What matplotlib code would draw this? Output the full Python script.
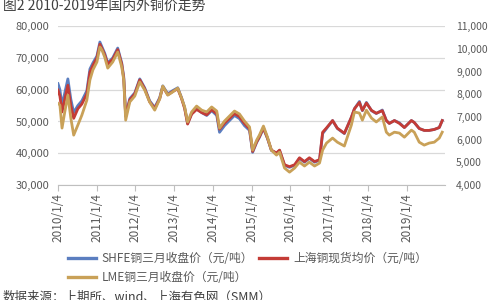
import matplotlib
matplotlib.use("Agg")
import matplotlib.pyplot as plt
from matplotlib.lines import Line2D
from matplotlib.ticker import FuncFormatter
import pandas as pd

plt.rcParams['font.family'] = ['Noto Sans CJK SC', 'DejaVu Sans']

dates = ["2010-01-04", "2010-01-22", "2010-02-11", "2010-03-09", "2010-04-07", "2010-05-05",
         "2010-06-01", "2010-07-10", "2010-08-17", "2010-10-03", "2010-11-01", "2010-11-29",
         "2011-01-06", "2011-02-03", "2011-02-22", "2011-03-20", "2011-04-18", "2011-06-04",
         "2011-07-21", "2011-08-28", "2011-09-16", "2011-10-04", "2011-11-12", "2011-12-29",
         "2012-02-14", "2012-03-31", "2012-05-17", "2012-07-04", "2012-08-20", "2012-09-18",
         "2012-11-04", "2012-12-20", "2013-02-06", "2013-03-14", "2013-04-12", "2013-05-10",
         "2013-06-17", "2013-08-03", "2013-09-20", "2013-11-06", "2013-12-23", "2014-02-09",
         "2014-03-07", "2014-04-23", "2014-06-09", "2014-07-26", "2014-09-11", "2014-10-28",
         "2014-12-15", "2015-01-13", "2015-02-20", "2015-03-18", "2015-04-25", "2015-06-02",
         "2015-07-09", "2015-08-26", "2015-09-24", "2015-11-10", "2015-12-27", "2016-02-13",
         "2016-03-30", "2016-05-16", "2016-07-01", "2016-08-19", "2016-10-05", "2016-11-03",
         "2016-12-10", "2017-02-05", "2017-03-22", "2017-05-27", "2017-08-01", "2017-08-30",
         "2017-10-16", "2017-11-13", "2017-12-21", "2018-02-07", "2018-03-24", "2018-05-20",
         "2018-06-27", "2018-07-25", "2018-09-11", "2018-10-28", "2018-12-14", "2019-02-18",
         "2019-03-17", "2019-05-03", "2019-06-19", "2019-08-05", "2019-09-22", "2019-11-08",
         "2019-12-06"]

shfe = [61900, 60000, 55000, 59000, 63400, 57000,
        52800, 55000, 56500, 59700, 66500, 68400,
        70600, 75000, 73500, 71500, 68400, 70000,
        73100, 68400, 64000, 52000, 57200, 59000,
        63400, 60600, 56500, 54400, 57500, 61200,
        58700, 59700, 60600, 57500, 54400, 49400,
        52500, 54000, 52800, 51900, 53400, 51900,
        46600, 48700, 50300, 51900, 50900, 48700,
        47200, 40300, 43400, 45000, 47800, 44700,
        40900, 40000, 40900, 36200, 35600, 36200,
        38400, 37200, 38400, 37200, 37800, 46200,
        47800, 50300, 47800, 46200, 51300, 54000,
        56300, 53400, 56000, 53400, 52500, 53600,
        50300, 49400, 50300, 49600, 48100, 50300,
        49700, 47800, 47200, 47200, 47500, 48100,
        50300]

spot = [59900, 58000, 53000, 57000, 61400, 55000,
        51000, 54000, 55500, 58700, 65500, 67600,
        70000, 74300, 73000, 71000, 68000, 69600,
        72600, 68000, 63500, 51600, 56800, 58700,
        63100, 60300, 56200, 54100, 57200, 60900,
        58400, 59400, 60300, 57200, 54100, 49200,
        52300, 53800, 52800, 52100, 53700, 52400,
        47600, 49500, 51000, 52500, 51500, 49400,
        47700, 40600, 43600, 45200, 48000, 44800,
        41000, 40100, 41000, 36400, 35800, 36400,
        38600, 37400, 38600, 37400, 38000, 46600,
        48000, 50300, 47900, 46300, 51300, 54000,
        56000, 53500, 55800, 53500, 52600, 53400,
        50300, 49400, 50300, 49400, 48100, 50300,
        49700, 47800, 47200, 47200, 47500, 48100,
        50300]

lme = [7600, 7520, 6510, 7220, 7960, 6950,
       6200, 6640, 7080, 7740, 8630, 9070,
       9420, 10080, 9950, 9640, 9150, 9420,
       9860, 9200, 8630, 6860, 7660, 7920,
       8540, 8190, 7660, 7300, 7790, 8360,
       7960, 8100, 8270, 7830, 7440, 6780,
       7220, 7480, 7300, 7220, 7440, 7260,
       6510, 6820, 7040, 7260, 7130, 6820,
       6560, 5540, 5980, 6200, 6600, 6110,
       5540, 5320, 5450, 4750, 4570, 4750,
       5010, 4840, 5010, 4840, 4970, 5540,
       5850, 6070, 5890, 5720, 6640, 7220,
       7170, 6860, 7300, 6950, 6780, 7000,
       6330, 6200, 6330, 6290, 6110, 6420,
       6330, 5890, 5760, 5850, 5890, 6070,
       6330]

tick_dates = ["2010-01-04", "2011-01-04", "2012-01-04", "2013-01-04", "2014-01-04",
              "2015-01-04", "2016-01-04", "2017-01-04", "2018-01-04", "2019-01-04"]
tick_labels = ["2010/1/4", "2011/1/4", "2012/1/4", "2013/1/4", "2014/1/4",
               "2015/1/4", "2016/1/4", "2017/1/4", "2018/1/4", "2019/1/4"]

names = ["SHFE铜三月收盘价（元/吨）", "上海铜现货均价（元/吨）", "LME铜三月收盘价（元/吨）"]
colors = ["#5B7EC0", "#C43C36", "#C9A158"]

x = pd.to_datetime(dates)
tx = pd.to_datetime(tick_dates)

fig = plt.figure(figsize=(5, 3), dpi=100)
ax = fig.add_axes([0.116, 0.383, 0.774, 0.53])
ax2 = ax.twinx()

lw = 2.0
ax.plot(x, shfe, color=colors[0], lw=lw, solid_joinstyle='round')
ax.plot(x, spot, color=colors[1], lw=lw, solid_joinstyle='round')
ax2.plot(x, lme, color=colors[2], lw=lw, solid_joinstyle='round')

ax.set_xlim(pd.Timestamp("2010-01-04"), pd.Timestamp("2020-01-01"))
ax.set_ylim(30000, 80000)
ax.set_yticks([30000, 40000, 50000, 60000, 70000, 80000])
ax2.set_ylim(4000, 11000)
ax2.set_yticks(range(4000, 11001, 1000))
fmt = FuncFormatter(lambda v, p: f"{int(v):,}")
ax.yaxis.set_major_formatter(fmt)
ax2.yaxis.set_major_formatter(fmt)

ax.grid(axis='y', color='#D9D9D9', lw=0.9)
ax.set_axisbelow(True)
for a in (ax, ax2):
    for s in ['top', 'right', 'left']:
        a.spines[s].set_visible(False)
ax2.spines['bottom'].set_visible(False)
ax.spines['bottom'].set_color('#BFBFBF')

ax.set_xticks(tx)
ax.set_xticklabels(tick_labels, rotation=90)
ax.tick_params(axis='x', length=4, color='#BFBFBF', labelsize=8.5, labelcolor='#595959', pad=2)
ax.tick_params(axis='y', length=0, labelsize=8, labelcolor='#595959', pad=6)
ax2.tick_params(axis='y', length=0, labelsize=7.5, labelcolor='#595959', pad=8)

handles = [Line2D([], [], color=colors[0], lw=2.4),
           Line2D([], [], color=colors[2], lw=2.4),
           Line2D([], [], color=colors[1], lw=2.4)]
labels = [names[0], names[2], names[1]]
fig.legend(handles, labels, ncol=2, loc='upper left', bbox_to_anchor=(0.135, 0.16),
           frameon=False, fontsize=8.5, labelcolor='#595959', handlelength=2.4,
           handletextpad=0.5, columnspacing=0.5, labelspacing=0.55, borderaxespad=0,
           borderpad=0)

fig.text(0.006, 1.005, "图2 2010-2019年国内外铜价走势", fontsize=10, color='#404040',
         ha='left', va='top')
fig.text(0.006, -0.012, "数据来源：上期所、wind、上海有色网（SMM）", fontsize=9,
         color='#404040', ha='left', va='bottom')

fig.savefig("out.png", dpi=100)
